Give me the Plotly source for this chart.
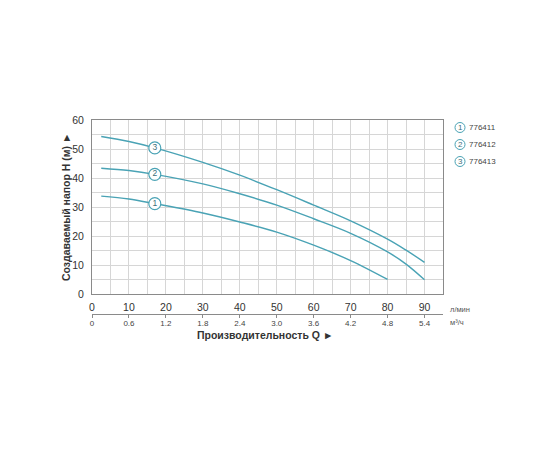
import plotly.graph_objects as go

# pump curves, head H (m) vs flow Q (l/min)
q_3 = [2.5, 10, 17, 30, 40, 50, 60, 70, 80, 85, 90]
h_3 = [54.3, 52.6, 50.4, 45.4, 41.0, 36.0, 30.7, 25.3, 19.0, 15.2, 11.0]

q_2 = [2.5, 10, 17, 30, 40, 50, 60, 70, 80, 85, 90]
h_2 = [43.4, 42.6, 41.3, 38.0, 34.6, 30.7, 26.0, 21.0, 14.6, 10.4, 5.0]

q_1 = [2.5, 10, 17, 30, 40, 50, 60, 70, 80]
h_1 = [33.8, 32.8, 31.2, 28.0, 24.9, 21.4, 16.9, 11.6, 5.1]

models = ['776411', '776412', '776413']
curve_nums = ['1', '2', '3']
label_idx = 2  # point where the number badge sits (q=17)

m3h_ticks = [0, 0.6, 1.2, 1.8, 2.4, 3.0, 3.6, 4.2, 4.8, 5.4]
m3h_text = ['0', '0.6', '1.2', '1.8', '2.4', '3.0', '3.6', '4.2', '4.8', '5.4']

teal = '#4aa3b5'
grid = '#d6d6d6'
axis_col = '#8a8a8a'
font = 'Liberation Sans, Arial, sans-serif'

fig = go.Figure()

curves = [(q_1, h_1), (q_2, h_2), (q_3, h_3)]
for (q, h) in curves:
    fig.add_trace(go.Scatter(
        x=q, y=h, mode='lines',
        line=dict(color=teal, width=1.4, shape='spline', smoothing=1.0),
        showlegend=False, hoverinfo='skip'
    ))

# numbered badges on curves
for num, (q, h) in zip(curve_nums, curves):
    fig.add_trace(go.Scatter(
        x=[q[label_idx]], y=[h[label_idx]], mode='markers+text',
        marker=dict(size=12, color='white', line=dict(color=teal, width=1.2)),
        text=[num], textposition='middle center',
        textfont=dict(family=font, size=8.5, color='#3b6f7a'),
        showlegend=False, hoverinfo='skip'
    ))

# dummy trace so the m3/h axis gets drawn
fig.add_trace(go.Scatter(
    x=m3h_ticks, y=[None] * len(m3h_ticks), xaxis='x2', yaxis='y',
    mode='lines', showlegend=False, hoverinfo='skip'
))

# page has an 8px body margin, so the figure is 552x452 and shifted
OFF = 8
W, H = 560 - OFF, 460 - OFF
# plot box in reference pixels
L, R, T, B = 92, 443, 120, 314
PW, PH = R - L, B - T

def px(xp):
    return (xp - L) / PW

def py(yp):
    return (B - yp) / PH

fig.update_layout(
    width=W, height=H,
    margin=dict(l=L - OFF, r=W - (R - OFF), t=T - OFF, b=H - (B - OFF),
                autoexpand=False),
    paper_bgcolor='white', plot_bgcolor='white',
    font=dict(family=font, size=10, color='#333333'),
    xaxis=dict(
        range=[0, 95], dtick=10, tick0=0,
        showgrid=True, gridcolor=grid, gridwidth=1.3,
        minor=dict(dtick=5, showgrid=True, gridcolor=grid, gridwidth=1.3),
        showline=True, linecolor=axis_col, linewidth=1, mirror=True,
        ticks='', zeroline=False, ticklabelstandoff=3,
        tickfont=dict(size=10.5, color='#333333'),
        anchor='y', automargin=False
    ),
    xaxis2=dict(
        range=[0, 95 * 0.06], overlaying='x', anchor='free', position=0,
        side='bottom', tickvals=m3h_ticks, ticktext=m3h_text,
        showgrid=False, zeroline=False,
        showline=True, linecolor=axis_col, linewidth=1,
        ticks='outside', ticklen=3, tickcolor=axis_col,
        ticklabelstandoff=-2,
        tickfont=dict(size=8, color='#444444'), automargin=False
    ),
    yaxis=dict(
        range=[0, 60], dtick=10, tick0=0, domain=[py(294.3), 1],
        showgrid=True, gridcolor=grid, gridwidth=1.3,
        minor=dict(dtick=5, showgrid=True, gridcolor=grid, gridwidth=1.3),
        showline=True, linecolor=axis_col, linewidth=1, mirror=True,
        ticks='', zeroline=False, ticklabelstandoff=5,
        tickfont=dict(size=10.5, color='#333333'), automargin=False
    ),
)

def note(text, x, y, size, color, xanchor='center', angle=0):
    return dict(text=text, x=px(x), y=py(y), xref='paper', yref='paper',
                xanchor=xanchor, yanchor='middle', textangle=angle,
                showarrow=False, font=dict(size=size, color=color))

ann = [
    note('<b>Создаваемый напор H (м) ►</b>', 66, 207, 10.5, '#333333', angle=-90),
    note('<b>Производительность Q ►</b>', 265, 335, 10.5, '#333333'),
    note('л/мин', 448, 309, 7.5, '#555555', xanchor='left'),
    note('м³/ч', 448, 322, 7.5, '#555555', xanchor='left'),
]

shapes = []
leg_y = [127.5, 144.5, 161.5]
for num, model, yy in zip(curve_nums, models, leg_y):
    shapes.append(dict(type='circle', xref='paper', yref='paper',
                       x0=px(455), x1=px(465), y0=py(yy + 5), y1=py(yy - 5),
                       line=dict(color=teal, width=1), fillcolor='white'))
    ann.append(note(num, 460, yy, 8, '#3b6f7a'))
    ann.append(note(model, 467, yy, 8, '#444444', xanchor='left'))

fig.update_layout(annotations=ann, shapes=shapes)

fig.write_html('out.html')
